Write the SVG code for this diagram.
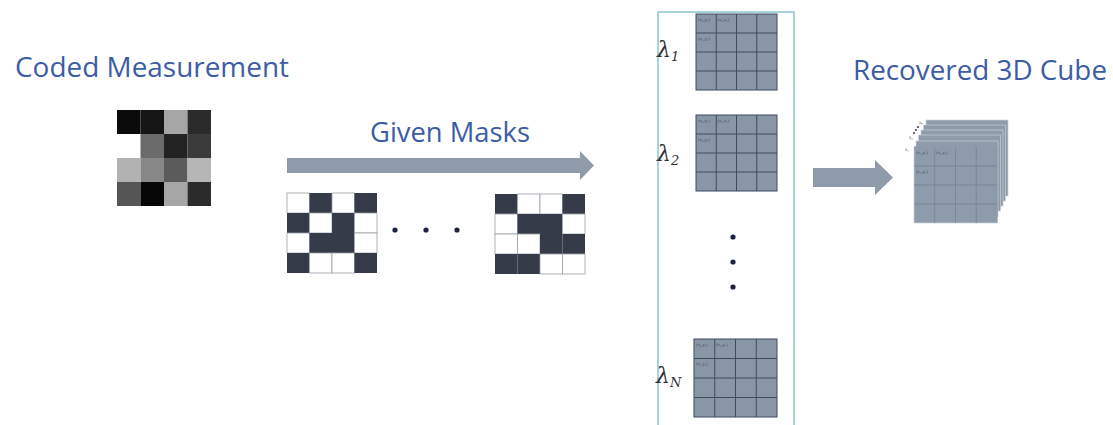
<svg xmlns="http://www.w3.org/2000/svg" width="1113" height="425" viewBox="0 0 1113 425">
<style>
.title{font-family:"Open Sans","Noto Sans",sans-serif;fill:#3c5ca6;font-size:27px}
.g{fill:#8996a6;stroke:#3e4a60;stroke-width:1}
.gl{stroke:#3e4a60;stroke-width:1;fill:none}
.tiny{font-family:"Liberation Serif",serif;font-size:4.5px;fill:#3e4a60}
.lam{font-family:"DejaVu Serif","Liberation Serif",serif;font-style:italic;font-size:22px;fill:#2f2f3a}
.sub{font-size:13px}
.d{fill:#353b48}
.w{fill:#ffffff;stroke:#9aa0a8;stroke-width:0.8}
.arrow{fill:#8f9baa}
.dot{fill:#1c2340}
.sheet{fill:#8e9bab;stroke:#c9d0d8;stroke-width:0.7}
.cl{stroke:#75829a;stroke-width:0.8;fill:none}
</style>
<rect width="1113" height="425" fill="#ffffff"/>

<g id="coded-measurement">
<text class="title" x="15" y="77" textLength="274" lengthAdjust="spacingAndGlyphs">Coded Measurement</text>
<g>
<rect x="117" y="110" width="23.5" height="24" fill="#0b0b0b"/>
<rect x="140.5" y="110" width="23.5" height="24" fill="#161616"/>
<rect x="164" y="110" width="23.5" height="24" fill="#a6a6a6"/>
<rect x="187.5" y="110" width="23.5" height="24" fill="#2b2b2b"/>
<rect x="140.5" y="134" width="23.5" height="24" fill="#6b6b6b"/>
<rect x="164" y="134" width="23.5" height="24" fill="#222222"/>
<rect x="187.5" y="134" width="23.5" height="24" fill="#3b3b3b"/>
<rect x="117" y="158" width="23.5" height="24" fill="#b2b2b2"/>
<rect x="140.5" y="158" width="23.5" height="24" fill="#878787"/>
<rect x="164" y="158" width="23.5" height="24" fill="#5b5b5b"/>
<rect x="187.5" y="158" width="23.5" height="24" fill="#b6b6b6"/>
<rect x="117" y="182" width="23.5" height="24" fill="#555555"/>
<rect x="140.5" y="182" width="23.5" height="24" fill="#060606"/>
<rect x="164" y="182" width="23.5" height="24" fill="#a6a6a6"/>
<rect x="187.5" y="182" width="23.5" height="24" fill="#2b2b2b"/>
</g>
</g>

<g id="given-masks">
<text class="title" x="370" y="142" textLength="160" lengthAdjust="spacingAndGlyphs">Given Masks</text>
<polygon class="arrow" points="287,158 580,158 580,151 594,165.5 580,180 580,173 287,173"/>
</g>

<g id="mask-1">
<rect class="w" x="287" y="193" width="22.5" height="20"/><rect class="d" x="309.5" y="193" width="22.5" height="20"/><rect class="w" x="332" y="193" width="22.5" height="20"/><rect class="d" x="354.5" y="193" width="22.5" height="20"/>
<rect class="d" x="287" y="213" width="22.5" height="20"/><rect class="w" x="309.5" y="213" width="22.5" height="20"/><rect class="d" x="332" y="213" width="22.5" height="20"/><rect class="w" x="354.5" y="213" width="22.5" height="20"/>
<rect class="w" x="287" y="233" width="22.5" height="20"/><rect class="d" x="309.5" y="233" width="22.5" height="20"/><rect class="d" x="332" y="233" width="22.5" height="20"/><rect class="w" x="354.5" y="233" width="22.5" height="20"/>
<rect class="d" x="287" y="253" width="22.5" height="20"/><rect class="w" x="309.5" y="253" width="22.5" height="20"/><rect class="w" x="332" y="253" width="22.5" height="20"/><rect class="d" x="354.5" y="253" width="22.5" height="20"/>
</g>

<g id="mask-dots">
<circle class="dot" cx="395" cy="230" r="2.6"/>
<circle class="dot" cx="426" cy="230" r="2.6"/>
<circle class="dot" cx="457" cy="230" r="2.6"/>
</g>

<g id="mask-n">
<rect class="d" x="495" y="194" width="22.5" height="20"/><rect class="w" x="517.5" y="194" width="22.5" height="20"/><rect class="w" x="540" y="194" width="22.5" height="20"/><rect class="d" x="562.5" y="194" width="22.5" height="20"/>
<rect class="w" x="495" y="214" width="22.5" height="20"/><rect class="d" x="517.5" y="214" width="22.5" height="20"/><rect class="d" x="540" y="214" width="22.5" height="20"/><rect class="w" x="562.5" y="214" width="22.5" height="20"/>
<rect class="w" x="495" y="234" width="22.5" height="20"/><rect class="w" x="517.5" y="234" width="22.5" height="20"/><rect class="d" x="540" y="234" width="22.5" height="20"/><rect class="d" x="562.5" y="234" width="22.5" height="20"/>
<rect class="d" x="495" y="254" width="22.5" height="20"/><rect class="d" x="517.5" y="254" width="22.5" height="20"/><rect class="w" x="540" y="254" width="22.5" height="20"/><rect class="w" x="562.5" y="254" width="22.5" height="20"/>
</g>

<g id="spectral-panel">
<rect x="658" y="12" width="136" height="440" fill="none" stroke="#a9d3dc" stroke-width="2"/>
</g>

<g id="band-1">
<text class="lam" x="657" y="57">λ<tspan class="sub" dy="4">1</tspan></text>
<rect class="g" x="696" y="14" width="81" height="76"/>
<path class="gl" d="M716.25,14V90M736.5,14V90M756.75,14V90M696,33H777M696,52H777M696,71H777"/>
<text class="tiny" x="698" y="21">(x₁,y₁)</text><text class="tiny" x="717.5" y="21">(x₂,y₁)</text><text class="tiny" x="698" y="40">(x₁,y₂)</text>
</g>

<g id="band-2">
<text class="lam" x="657" y="161">λ<tspan class="sub" dy="4">2</tspan></text>
<rect class="g" x="696" y="115" width="81" height="76"/>
<path class="gl" d="M716.25,115V191M736.5,115V191M756.75,115V191M696,134H777M696,153H777M696,172H777"/>
<text class="tiny" x="698" y="122">(x₁,y₁)</text><text class="tiny" x="717.5" y="122">(x₂,y₁)</text><text class="tiny" x="698" y="141">(x₁,y₂)</text>
</g>

<g id="band-dots">
<circle class="dot" cx="733" cy="237" r="2.6"/>
<circle class="dot" cx="733" cy="262" r="2.6"/>
<circle class="dot" cx="733" cy="287" r="2.6"/>
</g>

<g id="band-n">
<text class="lam" x="656" y="383">λ<tspan class="sub" dy="4">N</tspan></text>
<rect class="g" x="694" y="339" width="83" height="78"/>
<path class="gl" d="M714.75,339V417M735.5,339V417M756.25,339V417M694,358.5H777M694,378H777M694,397.5H777"/>
<text class="tiny" x="696" y="346">(x₁,y₁)</text><text class="tiny" x="716" y="346">(x₂,y₁)</text><text class="tiny" x="696" y="365">(x₁,y₂)</text>
</g>

<g id="connectors">
<polygon class="arrow" points="813,168 875,168 875,160 893,177.5 875,195 875,187 813,187"/>
</g>

<g id="recovered-cube">
<text class="title" x="853" y="80" textLength="254" lengthAdjust="spacingAndGlyphs">Recovered 3D Cube</text>
<rect class="sheet" x="926" y="120" width="82" height="76"/>
<rect class="sheet" x="923.5" y="125" width="82" height="76"/>
<rect class="sheet" x="921" y="130" width="82" height="76"/>
<rect class="sheet" x="918.5" y="135" width="82" height="76"/>
<rect class="sheet" x="916" y="141" width="82" height="76"/>
<rect class="sheet" x="914" y="147" width="83" height="76" stroke="none"/>
<path class="cl" d="M914,147H997V223M934.75,147V223M955.5,147V223M976.25,147V223M914,166H997M914,185H997M914,204H997"/>
<text class="tiny" x="916" y="154">(x₁,y₁)</text><text class="tiny" x="936" y="154">(x₂,y₁)</text><text class="tiny" x="916" y="173">(x₁,y₂)</text>
<text class="tiny" x="905" y="151">λ₁</text>
<text class="tiny" x="909" y="139">λ₂</text>
<circle class="dot" cx="914" cy="133" r="0.9"/><circle class="dot" cx="916" cy="130" r="0.9"/><circle class="dot" cx="918" cy="127" r="0.9"/>
<text class="tiny" x="919" y="124">λₙ</text>
</g>
</svg>
